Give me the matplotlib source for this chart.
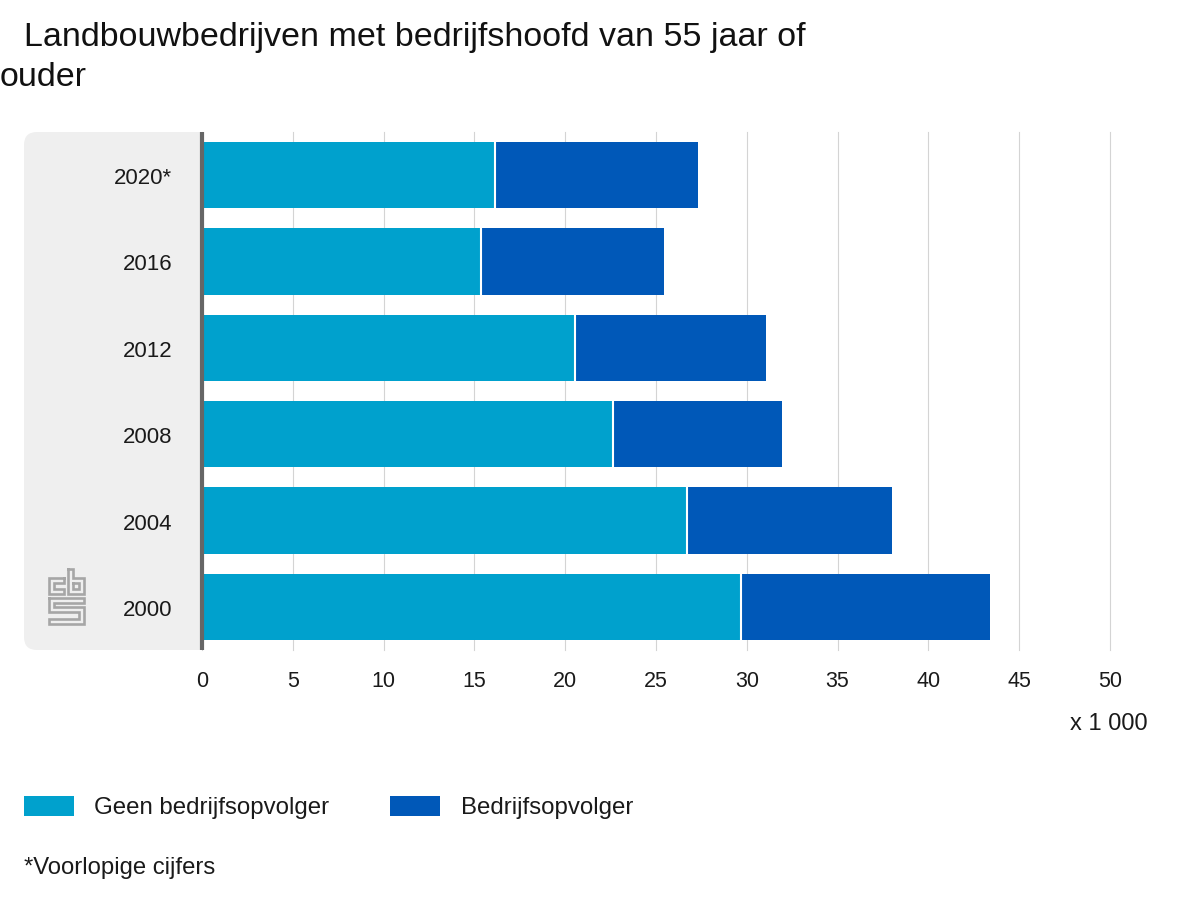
import matplotlib
matplotlib.use("Agg")
import matplotlib.pyplot as plt
from matplotlib.patches import FancyBboxPatch, Rectangle
from matplotlib.transforms import ScaledTranslation

plt.rcParams['font.family'] = ['Liberation Sans', 'DejaVu Sans']

years = ["2000", "2004", "2008", "2012", "2016", "2020*"]
geen = [29.7, 26.7, 22.65, 20.55, 15.35, 16.15]
wel = [13.7, 11.3, 9.3, 10.5, 10.1, 11.15]
ticks = [0, 5, 10, 15, 20, 25, 30, 35, 40, 45, 50]
C1 = "#00A1CD"
C2 = "#0058B8"
TXT = '#1A1A1A'

W, H = 1200, 900
fig = plt.figure(figsize=(12, 9), dpi=100)

# pixel-coordinate backdrop layer
bgax = fig.add_axes([0, 0, 1, 1], zorder=0)
bgax.set_xlim(0, W)
bgax.set_ylim(H, 0)
bgax.axis('off')
bgax.add_patch(FancyBboxPatch((24, 132), 150, 518, boxstyle="round,pad=0,rounding_size=13",
                              fc='#EFEFEF', ec='none'))
bgax.add_patch(Rectangle((120, 132), 82, 518, fc='#EFEFEF', ec='none'))
logo = [
    [(64, 578), (49, 578), (49, 594), (64, 594), (64, 589), (54, 589), (54, 583), (64, 583), (64, 578)],
    [(68, 569), (73, 569), (73, 578), (84, 578), (84, 594), (68, 594), (68, 569)],
    [(73, 583), (79, 583), (79, 589), (73, 589), (73, 583)],
    [(49, 598), (84, 598), (84, 603), (54, 603), (54, 607), (84, 607), (84, 624), (49, 624),
     (49, 619), (79, 619), (79, 612), (49, 612), (49, 598)],
]
for p in logo:
    bgax.plot([q[0] for q in p], [q[1] for q in p], color='#A6A6A6', lw=1.9, solid_joinstyle='miter')
bgax.add_patch(Rectangle((24, 796), 50, 20, fc=C1, ec='none'))
bgax.add_patch(Rectangle((390, 796), 50, 20, fc=C2, ec='none'))
bgax.text(24, 37.5, "Landbouwbedrijven met bedrijfshoofd van 55 jaar of", fontsize=24.5, color='#111111', va='center')
bgax.text(0, 78, "ouder", fontsize=24.5, color='#111111', va='center')
bgax.text(1148, 724, "x 1 000", fontsize=17, color=TXT, ha='right', va='center')
bgax.text(94, 808, "Geen bedrijfsopvolger", fontsize=17.3, color=TXT, va='center')
bgax.text(461, 808, "Bedrijfsopvolger", fontsize=17.3, color=TXT, va='center')
bgax.text(24, 868, "*Voorlopige cijfers", fontsize=17.2, color=TXT, va='center')

L, R, T, B = 202, 1110, 132, 650
ax = fig.add_axes([L/W, 1-B/H, (R-L)/W, (B-T)/H], zorder=1)
ax.patch.set_alpha(0)
ax.set_xlim(0, 50)
ax.set_ylim(-0.5, 5.5)
ax.set_xticks(ticks)
ax.tick_params(axis='x', length=0, labelsize=15.5, labelcolor=TXT, pad=15)
ax.set_yticks(range(len(years)))
ax.set_yticklabels(years)
ax.tick_params(axis='y', length=0, labelsize=16, labelcolor=TXT, pad=21.5)
shift = ScaledTranslation(0, -1/100, fig.dpi_scale_trans)
for lab in ax.get_yticklabels():
    lab.set_transform(lab.get_transform() + shift)
for s in ax.spines.values():
    s.set_visible(False)
ax.grid(axis='x', color='#D4D4D4', lw=0.8, clip_on=False)
ax.set_axisbelow(True)

ax.barh(range(6), geen, height=0.765, color=C1, lw=0, zorder=2)
ax.barh(range(6), wel, left=geen, height=0.765, color=C2, lw=0, zorder=2)
ax.vlines(geen, [i-0.3825 for i in range(6)], [i+0.3825 for i in range(6)], color='white', lw=1.5, zorder=3)
ax.axvline(0, color='#666666', lw=3, zorder=4, clip_on=False, solid_capstyle='butt')

fig.savefig("out.png", dpi=100)
